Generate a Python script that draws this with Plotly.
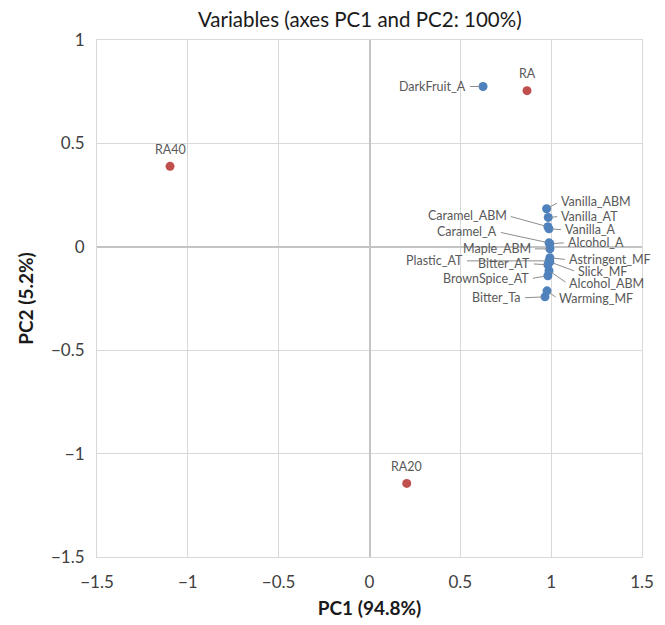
import plotly.graph_objects as go

# ---- data ----
var_names = ["DarkFruit_A", "Vanilla_ABM", "Vanilla_AT", "Vanilla_A", "Caramel_ABM",
             "Caramel_A", "Alcohol_A", "Maple_ABM", "Astringent_MF", "Plastic_AT",
             "Bitter_AT", "Slick_MF", "BrownSpice_AT", "Alcohol_ABM", "Warming_MF", "Bitter_Ta"]
var_pc1 = [0.625, 0.975, 0.984, 0.988, 0.982, 0.988, 0.993, 0.993, 0.993, 0.988,
           0.982, 0.993, 0.982, 0.988, 0.977, 0.966]
var_pc2 = [0.775, 0.184, 0.142, 0.087, 0.097, 0.019, 0.015, -0.010, -0.053, -0.068,
           -0.087, -0.073, -0.140, -0.116, -0.213, -0.242]

obs_names = ["RA", "RA40", "RA20"]
obs_pc1 = [0.867, -1.098, 0.205]
obs_pc2 = [0.755, 0.389, -1.144]

x_ticks = [-1.5, -1, -0.5, 0, 0.5, 1, 1.5]
y_ticks = [-1.5, -1, -0.5, 0, 0.5, 1]

# ---- label placement (pixel offsets of label from point) ----
label_offsets = {
    "DarkFruit_A": (-16, 0, "right"),
    "Vanilla_ABM": (13, -7, "left"),
    "Vanilla_AT": (12, -1, "left"),
    "Vanilla_A": (15, 1, "left"),
    "Caramel_ABM": (-40, -11, "right"),
    "Caramel_A": (-51, -11, "right"),
    "Alcohol_A": (17, -1, "left"),
    "Maple_ABM": (-18, 0, "right"),
    "Astringent_MF": (18, 2, "left"),
    "Plastic_AT": (-85, 0, "right"),
    "Bitter_AT": (-17, -1, "right"),
    "Slick_MF": (27, 10, "left"),
    "BrownSpice_AT": (-18, 3, "right"),
    "Alcohol_ABM": (19, 13, "left"),
    "Warming_MF": (11, 8, "left"),
    "Bitter_Ta": (-23, 1, "right"),
}

FONT = "Lato, 'Open Sans', sans-serif"
BLUE = "#4F81BD"
RED = "#C0504D"

fig = go.Figure()
fig.add_trace(go.Scatter(x=var_pc1, y=var_pc2, mode="markers", name="Variables",
                         marker=dict(color=BLUE, size=9), hoverinfo="text", text=var_names))
fig.add_trace(go.Scatter(x=obs_pc1, y=obs_pc2, mode="markers", name="Observations",
                         marker=dict(color=RED, size=9), hoverinfo="text", text=obs_names))

annotations = []
for n, x, y in zip(var_names, var_pc1, var_pc2):
    ax, ay, anchor = label_offsets[n]
    annotations.append(dict(x=x, y=y, xref="x", yref="y", text=n, showarrow=True,
                            arrowhead=0, arrowwidth=1, arrowcolor="#8c8c8c",
                            ax=ax, ay=ay, xanchor=anchor, yanchor="middle",
                            borderpad=0, standoff=3, startstandoff=3,
                            font=dict(family=FONT, size=12.5, color="#595959")))
for n, x, y in zip(obs_names, obs_pc1, obs_pc2):
    annotations.append(dict(x=x, y=y, xref="x", yref="y", text=n, showarrow=False,
                            yshift=17, font=dict(family=FONT, size=12.5, color="#595959")))

axis_common = dict(showgrid=True, gridcolor="#d9d9d9", gridwidth=1,
                   zeroline=True, zerolinecolor="#c4c4c4", zerolinewidth=2,
                   showline=True, linecolor="#d9d9d9", linewidth=1, mirror=True,
                   tickfont=dict(family=FONT, size=17, color="#404040"),
                   ticks="", automargin=False)

fig.update_layout(
    width=665, height=625,
    margin=dict(l=89, r=31, t=32, b=76),
    paper_bgcolor="white", plot_bgcolor="white",
    showlegend=False,
    title=dict(text="Variables (axes PC1 and PC2: 100%)", x=0.529, xanchor="center",
               y=0.981, yanchor="middle",
               font=dict(family=FONT, size=20.5, color="#1a1a1a")),
    xaxis=dict(range=[-1.5, 1.5], tickvals=x_ticks, ticktext=[f"{v:g}".replace("-", "\u2212") for v in x_ticks],
               title=dict(text="<b>PC1 (94.8%)</b>", standoff=10,
                          font=dict(family=FONT, size=19, color="#1a1a1a")),
               ticklabelstandoff=10, **axis_common),
    yaxis=dict(range=[-1.5, 1], tickvals=y_ticks, ticktext=[f"{v:g}".replace("-", "\u2212") for v in y_ticks],
               title=dict(text="<b>PC2 (5.2%)</b>", standoff=12,
                          font=dict(family=FONT, size=19, color="#1a1a1a")),
               ticklabelstandoff=8, **axis_common),
    annotations=annotations,
)

fig.write_html("out.html")
